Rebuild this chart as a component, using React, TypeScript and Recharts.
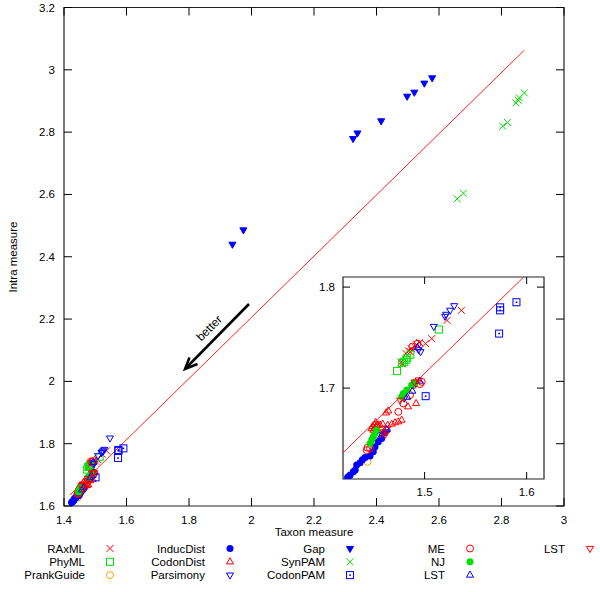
import React from 'react';
import { ScatterChart, Scatter, XAxis, YAxis, ReferenceArea, ReferenceLine } from 'recharts';

type Pt = [number, number];

// values (taxon measure, intra measure)
const raxml: Pt[] = [
  [1.536, 1.777], [1.522, 1.767], [1.507, 1.749], [1.501, 1.744], [1.495, 1.745], [1.492, 1.743],
  [1.49, 1.741], [1.487, 1.739], [1.486, 1.736], [1.484, 1.737], [1.482, 1.734], [1.478, 1.724], [1.477, 1.726],
];
const phyml: Pt[] = [
  [1.514, 1.758], [1.483, 1.73], [1.482, 1.728], [1.48, 1.726], [1.478, 1.725], [1.486, 1.733], [1.473, 1.717],
];
const prankGuide: Pt[] = [[1.444, 1.627]];
const inducDist: Pt[] = [
  [1.4245, 1.6115], [1.4252, 1.6122], [1.427, 1.614], [1.4301, 1.6171], [1.432, 1.619], [1.4334, 1.6238],
  [1.4367, 1.626], [1.439, 1.629], [1.4416, 1.6314], [1.4465, 1.6327], [1.4497, 1.637], [1.4514, 1.6419],
  [1.4546, 1.6468], [1.4579, 1.6502], [1.4612, 1.656],
];
const codonDist: Pt[] = [
  [1.4916, 1.6848], [1.4837, 1.6815], [1.4775, 1.6683], [1.4742, 1.6667], [1.471, 1.6657], [1.4677, 1.6644],
  [1.4638, 1.6634], [1.4589, 1.6644], [1.4563, 1.6634], [1.4497, 1.6584], [1.4514, 1.66], [1.4622, 1.6755],
  [1.4644, 1.6775], [1.449, 1.662], [1.451, 1.664], [1.453, 1.663], [1.448, 1.66], [1.452, 1.666], [1.4545, 1.6635],
];
const parsimony: Pt[] = [
  [1.529, 1.7815], [1.525, 1.777], [1.521, 1.773], [1.52, 1.771], [1.509, 1.761], [1.494, 1.738],
  [1.496, 1.736], [1.547, 1.818], [1.458, 1.654], [1.462, 1.657], [1.48, 1.69], [1.491, 1.705],
];
const gap: Pt[] = [
  [1.939, 2.44], [1.974, 2.486], [2.325, 2.779], [2.339, 2.797], [2.415, 2.836], [2.498, 2.915],
  [2.521, 2.928], [2.553, 2.957], [2.578, 2.974],
];
const synPam: Pt[] = [
  [2.873, 2.926], [2.857, 2.91], [2.854, 2.902], [2.846, 2.894], [2.819, 2.831], [2.804, 2.819],
  [2.678, 2.604], [2.658, 2.586],
];
const codonPam: Pt[] = [[1.59, 1.785], [1.574, 1.78], [1.574, 1.777], [1.573, 1.754], [1.501, 1.692]];
const me: Pt[] = [
  [1.4432, 1.6386], [1.4465, 1.6403], [1.4595, 1.6535], [1.4628, 1.6584], [1.4742, 1.6765], [1.4791, 1.6848],
  [1.4857, 1.6931], [1.489, 1.703], [1.4971, 1.7062], [1.4955, 1.704], [1.444, 1.641], [1.461, 1.656],
  [1.488, 1.741], [1.493, 1.744],
];
const nj: Pt[] = [
  [1.4465, 1.6452], [1.4481, 1.6485], [1.4497, 1.6518], [1.4514, 1.6551], [1.453, 1.6584], [1.4775, 1.6914],
  [1.4791, 1.6947], [1.4825, 1.698], [1.4873, 1.703], [1.4906, 1.7055],
];
const lstBlue: Pt[] = [[1.493, 1.74], [1.457, 1.652], [1.463, 1.659], [1.483, 1.691], [1.488, 1.697], [1.495, 1.707]];
const lstRed: Pt[] = [[1.49, 1.706], [1.494, 1.708], [1.4595, 1.6565], [1.476, 1.688]];

const fitLine: Pt[] = [[1.42, 1.636], [2.873, 3.063]];

const mainXTicks = [1.4, 1.6, 1.8, 2, 2.2, 2.4, 2.6, 2.8, 3];
const mainYTicks = [1.6, 1.8, 2, 2.2, 2.4, 2.6, 2.8, 3, 3.2];
const insetXTicks = [1.5, 1.6];
const insetYTicks = [1.7, 1.8];
const mainXDomain = [1.4, 3];
const mainYDomain = [1.6, 3.2];
const insetXDomain = [1.42, 1.617];
const insetYDomain = [1.61, 1.81];

const FONT = '"Liberation Sans", Arial, Helvetica, sans-serif';
const RED = '#ff0000';
const GREEN = '#00e000';
const BLUE = '#0000ff';
const ORANGE = '#ffa500';

const series = [
  { name: 'RAxML', data: raxml, kind: 'cross', color: RED },
  { name: 'PhyML', data: phyml, kind: 'square', color: GREEN },
  { name: 'PrankGuide', data: prankGuide, kind: 'circle', color: ORANGE },
  { name: 'InducDist', data: inducDist, kind: 'dot', color: BLUE },
  { name: 'CodonDist', data: codonDist, kind: 'triUp', color: RED },
  { name: 'Parsimony', data: parsimony, kind: 'triDown', color: BLUE },
  { name: 'Gap', data: gap, kind: 'triDownFill', color: BLUE },
  { name: 'SynPAM', data: synPam, kind: 'cross', color: GREEN },
  { name: 'CodonPAM', data: codonPam, kind: 'squareDot', color: BLUE },
  { name: 'ME', data: me, kind: 'circle', color: RED },
  { name: 'NJ', data: nj, kind: 'dot', color: GREEN },
  { name: 'LST', data: lstBlue, kind: 'triUp', color: BLUE },
  { name: 'LST', data: lstRed, kind: 'triDown', color: RED },
];

function Marker({ kind, color, cx, cy }: { kind: string; color: string; cx: number; cy: number }) {
  const s = 3.5;
  switch (kind) {
    case 'cross':
      return <path d={`M${cx - s},${cy - s}L${cx + s},${cy + s}M${cx - s},${cy + s}L${cx + s},${cy - s}`} stroke={color} fill="none" />;
    case 'square':
      return <rect x={cx - s} y={cy - s} width={2 * s} height={2 * s} stroke={color} fill="none" />;
    case 'squareDot':
      return (
        <g>
          <rect x={cx - s} y={cy - s} width={2 * s} height={2 * s} stroke={color} fill="none" />
          <rect x={cx - 0.8} y={cy - 0.8} width={1.6} height={1.6} fill={color} />
        </g>
      );
    case 'circle':
      return <circle cx={cx} cy={cy} r={s} stroke={color} fill="none" />;
    case 'dot':
      return <circle cx={cx} cy={cy} r={s} fill={color} />;
    case 'triUp':
      return <path d={`M${cx},${cy - s * 1.15}L${cx + s},${cy + s * 0.6}L${cx - s},${cy + s * 0.6}Z`} stroke={color} fill="none" />;
    case 'triDown':
      return <path d={`M${cx},${cy + s * 1.15}L${cx + s},${cy - s * 0.6}L${cx - s},${cy - s * 0.6}Z`} stroke={color} fill="none" />;
    default:
      return <path d={`M${cx},${cy + s * 1.15}L${cx + s},${cy - s * 0.6}L${cx - s},${cy - s * 0.6}Z`} stroke={color} fill={color} />;
  }
}

const shapeFor = (kind: string, color: string) => (p: any) =>
  p.cx == null || p.cy == null ? <g /> : <Marker kind={kind} color={color} cx={p.cx} cy={p.cy} />;

// ticks point inwards, mirrored on the opposite border like gnuplot
const xTick = (top: number, len: number, gap: number) => (p: any) => (
  <g>
    <line x1={p.x} y1={p.y} x2={p.x} y2={p.y - len} stroke="#000" />
    <line x1={p.x} y1={top} x2={p.x} y2={top + len} stroke="#000" />
    <text x={p.x} y={p.y + gap} textAnchor="middle" fontSize={11.5} fontFamily={FONT} fill="#000">
      {p.payload.value}
    </text>
  </g>
);
const yTick = (right: number, len: number, gap: number) => (p: any) => (
  <g>
    <line x1={p.x} y1={p.y} x2={p.x + len} y2={p.y} stroke="#000" />
    <line x1={right} y1={p.y} x2={right - len} y2={p.y} stroke="#000" />
    <text x={p.x - gap} y={p.y + 4} textAnchor="end" fontSize={11.5} fontFamily={FONT} fill="#000">
      {p.payload.value}
    </text>
  </g>
);

const toRows = (d: Pt[]) => d.map(([x, y]) => ({ x, y }));
const inside = (d: Pt[]) =>
  d.filter(([x, y]) => x >= insetXDomain[0] && x <= insetXDomain[1] && y >= insetYDomain[0] && y <= insetYDomain[1]);

export default function App() {
  const seg = fitLine.map(([x, y]) => ({ x, y }));
  return (
    <div style={{ position: 'absolute', left: 0, top: 0, width: 600, height: 592, background: '#fff', fontFamily: FONT }}>
      <ScatterChart width={600} height={592} margin={{ top: 7.5, right: 36, bottom: 56, left: 0 }}>
        <XAxis type="number" dataKey="x" domain={mainXDomain} ticks={mainXTicks} interval={0} height={30}
          axisLine={false} tickSize={0} tickMargin={0} tick={xTick(7.5, 8, 18)} allowDataOverflow />
        <YAxis type="number" dataKey="y" domain={mainYDomain} ticks={mainYTicks} interval={0} width={64}
          axisLine={false} tickSize={0} tickMargin={0} tick={yTick(564, 8, 9)} allowDataOverflow />
        <ReferenceArea x1={1.4} x2={3} y1={1.6} y2={3.2} fill="none" stroke="#222" strokeWidth={1.2} />
        <ReferenceLine segment={seg} stroke="#ff2020" strokeWidth={1} ifOverflow="hidden" />
        {series.map((s, i) => (
          <Scatter key={i} name={s.name} data={toRows(s.data)} shape={shapeFor(s.kind, s.color)} isAnimationActive={false} />
        ))}
      </ScatterChart>

      <div style={{ position: 'absolute', left: 313, top: 272 }}>
        <ScatterChart width={237} height={227} margin={{ top: 5, right: 6, bottom: 0, left: 0 }}>
          <XAxis type="number" dataKey="x" domain={insetXDomain} ticks={insetXTicks} interval={0} height={20}
            axisLine={false} tickSize={0} tickMargin={0} tick={xTick(5, 7, 17)} allowDataOverflow />
          <YAxis type="number" dataKey="y" domain={insetYDomain} ticks={insetYTicks} interval={0} width={30}
            axisLine={false} tickSize={0} tickMargin={0} tick={yTick(231, 7, 8)} allowDataOverflow />
          <ReferenceArea x1={insetXDomain[0]} x2={insetXDomain[1]} y1={insetYDomain[0]} y2={insetYDomain[1]}
            fill="#fff" stroke="#222" strokeWidth={1.2} ifOverflow="visible" />
          <ReferenceLine segment={seg} stroke="#ff2020" strokeWidth={1} ifOverflow="hidden" />
          {series.map((s, i) => (
            <Scatter key={i} name={s.name} data={toRows(inside(s.data))} shape={shapeFor(s.kind, s.color)} isAnimationActive={false} />
          ))}
        </ScatterChart>
      </div>

      <svg width={600} height={592} style={{ position: 'absolute', left: 0, top: 0, pointerEvents: 'none' }}>
        <text x={314} y={536} textAnchor="middle" fontSize={11.5} fontFamily={FONT}>Taxon measure</text>
        <text x={0} y={0} transform="translate(17,257) rotate(-90)" textAnchor="middle" fontSize={11.5} fontFamily={FONT}>
          Intra measure
        </text>
        <line x1={249} y1={304} x2={187} y2={367} stroke="#000" strokeWidth={2.5} />
        <polyline points="189.5,357.5 185,369 197.5,364" stroke="#000" strokeWidth={2.5} fill="none" />
        <text x={0} y={0} transform="translate(212,331) rotate(-45)" textAnchor="middle" fontSize={12} fontFamily={FONT}>
          better
        </text>
        {series.map((s, i) => {
          const col = Math.floor(i / 3);
          const row = i % 3;
          const y = 548.5 + row * 13.3;
          return (
            <g key={i}>
              <text x={85 + col * 120} y={y + 4} textAnchor="end" fontSize={11.5} fontFamily={FONT}>{s.name}</text>
              <Marker kind={s.kind} color={s.color} cx={110 + col * 120} cy={y} />
            </g>
          );
        })}
      </svg>
    </div>
  );
}
